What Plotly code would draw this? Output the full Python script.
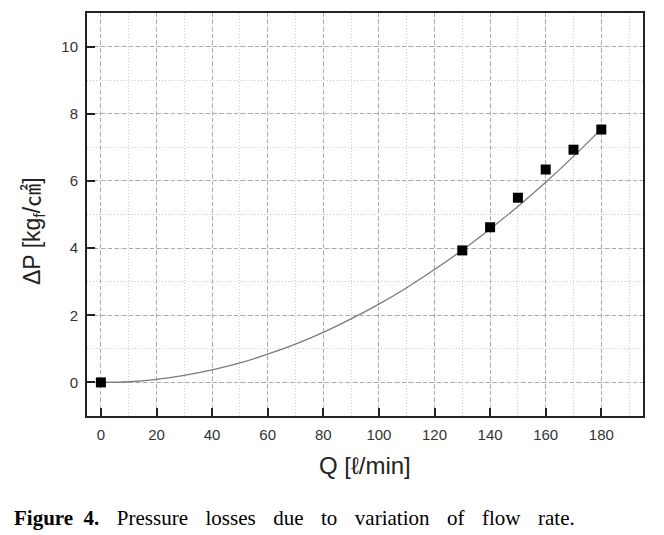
import plotly.graph_objects as go

# Measured data points
Q_meas = [0, 130, 140, 150, 160, 170, 180]
dP_meas = [0.0, 3.93, 4.62, 5.50, 6.34, 6.93, 7.53]

# Fitted curve
Q_fit = [0, 10, 20, 30, 40, 50, 60, 70, 80, 90, 100, 110, 120, 130, 140, 150, 160, 170, 180]
dP_fit = [0.0, 0.02, 0.09, 0.21, 0.37, 0.58, 0.84, 1.14, 1.49, 1.89, 2.33, 2.82, 3.36, 3.94, 4.57, 5.24, 5.96, 6.73, 7.55]

x_ticks = [0, 20, 40, 60, 80, 100, 120, 140, 160, 180]
y_ticks = [0, 2, 4, 6, 8, 10]

fig = go.Figure()
fig.add_trace(go.Scatter(x=Q_fit, y=dP_fit, mode="lines", line=dict(color="#7a7a7a", width=1.3, shape="spline"),
                         showlegend=False, hoverinfo="skip"))
fig.add_trace(go.Scatter(x=Q_meas, y=dP_meas, mode="markers",
                         marker=dict(symbol="square", size=10, color="black"), showlegend=False))

axis_common = dict(
    showline=True, linecolor="#222222", linewidth=2, mirror=True,
    ticks="inside", ticklen=8, tickwidth=1.5, tickcolor="#222222",
    ticklabelstandoff=4,
    showgrid=True, gridcolor="#aaaaaa", gridwidth=1, griddash="4px,3px",
    zeroline=False,
    tickfont=dict(family="Liberation Sans, Arial", size=15, color="#333333"),
    minor=dict(showgrid=True, gridcolor="#cccccc", gridwidth=1, griddash="1px,2px", ticks=""),
)

fig.update_xaxes(range=[-5, 195], tickvals=x_ticks, ticktext=[str(v) for v in x_ticks],
                 minor_dtick=10, minor_tick0=0, **axis_common)
fig.update_yaxes(range=[-1, 11], tickvals=y_ticks, ticktext=[str(v) for v in y_ticks],
                 minor_dtick=1, minor_tick0=0, **axis_common)

gap = "\u00a0\u00a0\u00a0\u200a"
caption = "<b>Figure\u00a0\u00a04.</b>" + gap + gap.join(
    ["Pressure", "losses", "due", "to", "variation", "of", "flow", "rate."])

fig.update_layout(
    width=664, height=535,
    margin=dict(l=79, r=29, t=3, b=127),
    plot_bgcolor="white", paper_bgcolor="white",
    annotations=[
        dict(text="Q [ℓ/min]", xref="paper", yref="paper", x=0.5, y=-0.1235, xanchor="center", yanchor="middle",
             showarrow=False, font=dict(family="Liberation Sans, Arial", size=24, color="#222222")),
        dict(text="ΔP [kg<sub>f</sub>/㎠]", xref="paper", yref="paper", x=-0.0971, y=0.459, xanchor="center",
             yanchor="middle", textangle=-90, showarrow=False,
             font=dict(family="Liberation Sans, Arial, Noto Sans CJK KR", size=23, color="#222222")),
        dict(text=caption,
             xref="paper", yref="paper", x=-0.1349, y=-0.254, xanchor="left", yanchor="middle",
             showarrow=False, font=dict(family="Liberation Serif, Times New Roman", size=21, color="black")),
    ],
)

fig.write_html("out.html")
